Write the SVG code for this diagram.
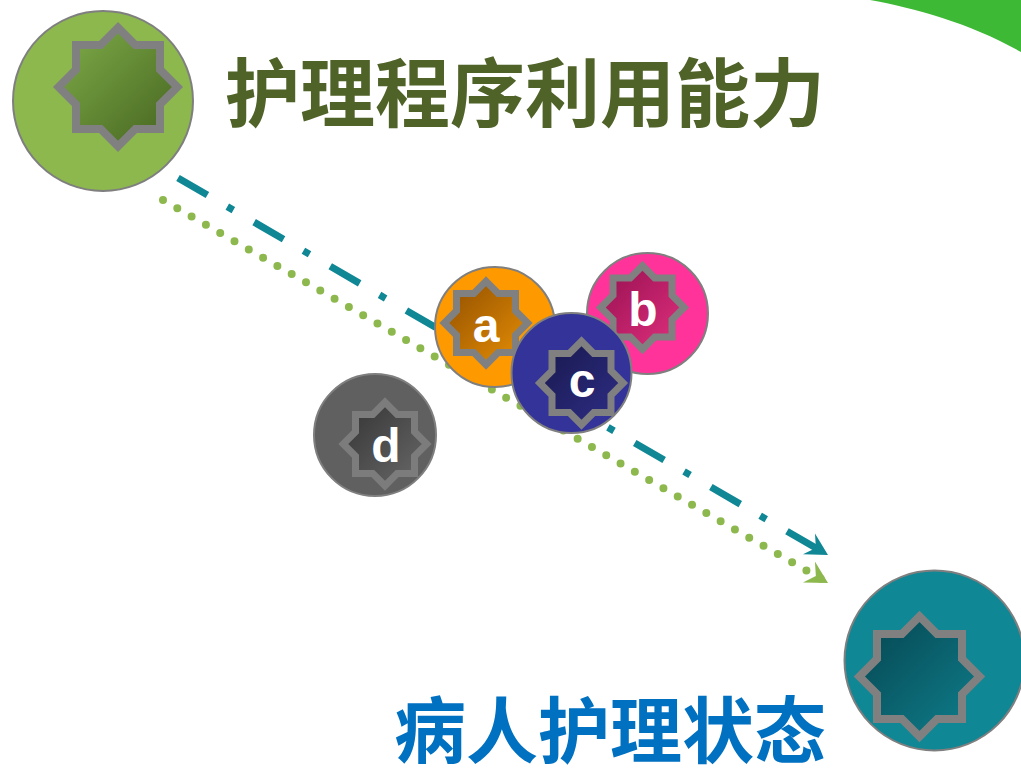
<svg xmlns="http://www.w3.org/2000/svg" width="1021" height="777" viewBox="0 0 1021 777">
<style>
.ring{stroke:#7f7f7f;stroke-width:2}
.star{stroke:#808080;stroke-width:7;stroke-linejoin:miter;stroke-miterlimit:10}
.big{stroke-width:8}
.lbl{font-family:"Liberation Sans",Arial,sans-serif;font-weight:bold;font-size:48px;fill:#ffffff;text-anchor:middle}
.cjk{font-family:"Noto Sans CJK SC","Noto Sans CJK TC",sans-serif;font-weight:bold}
</style>
<defs>
<linearGradient id="gG" x1="0" y1="0" x2="1" y2="1"><stop offset="0" stop-color="#80ad4a"/><stop offset="1" stop-color="#44631e"/></linearGradient>
<linearGradient id="gT" x1="0" y1="0" x2="1" y2="1"><stop offset="0" stop-color="#054550"/><stop offset="1" stop-color="#0f7f8c"/></linearGradient>
<linearGradient id="gA" x1="0" y1="0" x2="1" y2="1"><stop offset="0" stop-color="#8f4e00"/><stop offset="1" stop-color="#e89005"/></linearGradient>
<linearGradient id="gB" x1="0" y1="0" x2="1" y2="1"><stop offset="0" stop-color="#961050"/><stop offset="1" stop-color="#e2307f"/></linearGradient>
<linearGradient id="gC" x1="0" y1="0" x2="1" y2="1"><stop offset="0" stop-color="#18184c"/><stop offset="1" stop-color="#2e2e88"/></linearGradient>
<linearGradient id="gD" x1="0" y1="0" x2="1" y2="1"><stop offset="0" stop-color="#333333"/><stop offset="1" stop-color="#6a6a6a"/></linearGradient>
<marker id="arT" viewBox="-24 -13 26 26" markerWidth="26" markerHeight="26" refX="0" refY="0" orient="auto" markerUnits="userSpaceOnUse"><path d="M0,0 L-22,-12 L-14,0 L-22,12 Z" fill="#0f8795"/></marker>
<marker id="arG" viewBox="-24 -13 26 26" markerWidth="26" markerHeight="26" refX="0" refY="0" orient="auto" markerUnits="userSpaceOnUse"><path d="M0,0 L-22,-12 L-14,0 L-22,12 Z" fill="#8db84e"/></marker>
</defs>
<rect width="1021" height="777" fill="#ffffff"/>
<path id="leaf" d="M870,0 C915,8 972,24 1021,52 L1021,0 Z" fill="#3db936"/>
<g id="connectors">
<line x1="178" y1="178" x2="828" y2="555" stroke="#0f8795" stroke-width="7" stroke-dasharray="34 23 7 24" marker-end="url(#arT)"/>
<line x1="163" y1="200" x2="828" y2="583" stroke="#8db84e" stroke-width="8" stroke-linecap="round" stroke-dasharray="0 16.5" marker-end="url(#arG)"/>
</g>
<g id="node-top">
<circle class="ring" cx="103" cy="101" r="90" fill="#8db84e"/>
<polygon class="star big" fill="url(#gG)" points="118,27.6 135.4,45 160,45 160,69.6 177.4,87 160,104.4 160,129 135.4,129 118,146.4 100.6,129 76,129 76,104.4 58.6,87 76,69.6 76,45 100.6,45"/>
</g>
<g id="node-bottom">
<circle class="ring" cx="934.5" cy="660.5" r="90" fill="#0f8795"/>
<polygon class="star big" fill="url(#gT)" points="919.5,616.4 937.1,634 962,634 962,658.9 979.6,676.5 962,694.1 962,719 937.1,719 919.5,736.6 901.9,719 877,719 877,694.1 859.4,676.5 877,658.9 877,634 901.9,634"/>
</g>
<g id="node-d">
<circle class="ring" cx="375" cy="435" r="61" fill="#606060"/>
<polygon class="star" fill="url(#gD)" style="stroke:#7c7c7c" points="385,402.3 397.2,414.5 414.5,414.5 414.5,431.8 426.7,444 414.5,456.2 414.5,473.5 397.2,473.5 385,485.7 372.8,473.5 355.5,473.5 355.5,456.2 343.3,444 355.5,431.8 355.5,414.5 372.8,414.5"/>
<text class="lbl" x="386" y="462">d</text>
</g>
<g id="node-a">
<circle class="ring" cx="495" cy="327" r="60" fill="#ff9900"/>
<polygon class="star" fill="url(#gA)" points="486,281.3 498.2,293.5 515.5,293.5 515.5,310.8 527.7,323 515.5,335.2 515.5,352.5 498.2,352.5 486,364.7 473.8,352.5 456.5,352.5 456.5,335.2 444.3,323 456.5,310.8 456.5,293.5 473.8,293.5"/>
<text class="lbl" x="486" y="342">a</text>
</g>
<g id="node-b">
<circle class="ring" cx="647.5" cy="313.5" r="60.5" fill="#ff3399"/>
<polygon class="star" fill="url(#gB)" points="642.5,265.8 654.7,278 672,278 672,295.3 684.2,307.5 672,319.7 672,337 654.7,337 642.5,349.2 630.3,337 613,337 613,319.7 600.8,307.5 613,295.3 613,278 630.3,278"/>
<text class="lbl" x="643" y="326">b</text>
</g>
<g id="node-c">
<circle class="ring" cx="571.5" cy="373" r="60" fill="#333399"/>
<polygon class="star" fill="url(#gC)" points="581.5,341.3 593.7,353.5 611,353.5 611,370.8 623.2,383 611,395.2 611,412.5 593.7,412.5 581.5,424.7 569.3,412.5 552,412.5 552,395.2 539.8,383 552,370.8 552,353.5 569.3,353.5"/>
<text class="lbl" x="582" y="397">c</text>
</g>
<text id="title" class="cjk" x="225" y="121" font-size="75" fill="#4f6228">护理程序利用能力</text>
<text id="subtitle" class="cjk" x="394" y="757" font-size="72" fill="#0070c0">病人护理状态</text>
</svg>
